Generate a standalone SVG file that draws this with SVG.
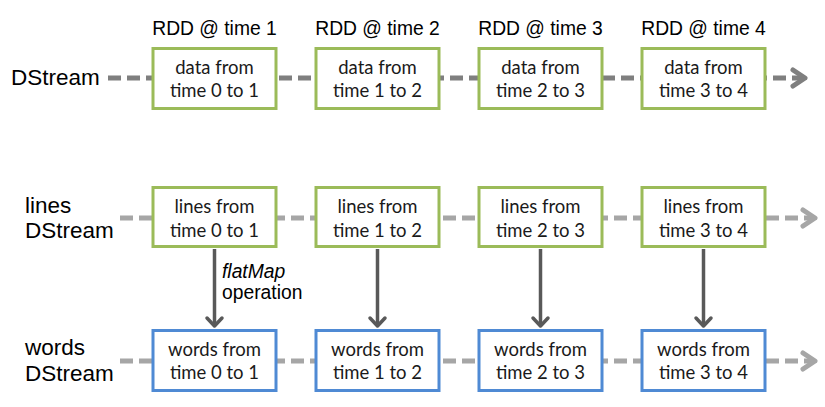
<svg xmlns="http://www.w3.org/2000/svg" width="825" height="407" viewBox="0 0 825 407">
<defs>
<style>
.bg{fill:#ffffff}
.lbl{font-family:"Liberation Sans",Arial,sans-serif;font-size:22.5px;fill:#000}
.hdr{font-family:"Liberation Sans",Arial,sans-serif;font-size:19.3px;fill:#000;text-anchor:middle}
.op{font-family:"Liberation Sans",Arial,sans-serif;font-size:19.3px;fill:#000}
.bt{font-family:Lato,"Open Sans",sans-serif;font-size:18.5px;fill:#1a1a1a;text-anchor:middle}
.g{fill:#fff;stroke:#9BBB59;stroke-width:3}
.b{fill:#fff;stroke:#4F8AD4;stroke-width:3}
.d1{stroke:#7f7f7f;stroke-width:5;stroke-dasharray:13 6;fill:none}
.d2{stroke:#a6a6a6;stroke-width:5;stroke-dasharray:13 6;fill:none}
.h1{stroke:#7f7f7f;stroke-width:5;fill:none;stroke-linecap:round;stroke-linejoin:round}
.h2{stroke:#a6a6a6;stroke-width:5;fill:none;stroke-linecap:round;stroke-linejoin:round}
.v{stroke:#595959;stroke-width:3.5;fill:none}
.vh{stroke:#595959;stroke-width:3.5;fill:none;stroke-linecap:round;stroke-linejoin:round}
</style>
</defs>
<rect class="bg" x="0" y="0" width="825" height="407"/>
<g id="connectors">
<line class="d1" x1="108" y1="78" x2="802" y2="78"/>
<polyline class="h1" points="793,70 805,78 793,86"/>
<line class="d2" x1="120" y1="218" x2="812" y2="218"/>
<polyline class="h2" points="803,210 815,218 803,226"/>
<line class="d2" x1="120" y1="361" x2="812" y2="361"/>
<polyline class="h2" points="803,353 815,361 803,369"/>
<line class="v" x1="214.5" y1="249" x2="214.5" y2="326"/>
<polyline class="vh" points="207,318 214.5,326 222,318"/>
<line class="v" x1="377.5" y1="249" x2="377.5" y2="326"/>
<polyline class="vh" points="370,318 377.5,326 385,318"/>
<line class="v" x1="540.5" y1="249" x2="540.5" y2="326"/>
<polyline class="vh" points="533,318 540.5,326 548,318"/>
<line class="v" x1="703.5" y1="249" x2="703.5" y2="326"/>
<polyline class="vh" points="696,318 703.5,326 711,318"/>
</g>
<g id="labels">
<text class="lbl" x="11" y="85">DStream</text>
<text class="lbl" x="25" y="213">lines</text>
<text class="lbl" x="25" y="238">DStream</text>
<text class="lbl" x="25" y="355">words</text>
<text class="lbl" x="25" y="381">DStream</text>
<text class="hdr" x="214.5" y="35">RDD @ time 1</text>
<text class="hdr" x="377.5" y="35">RDD @ time 2</text>
<text class="hdr" x="540.5" y="35">RDD @ time 3</text>
<text class="hdr" x="703.5" y="35">RDD @ time 4</text>
<text class="op" x="222" y="278" font-style="italic">flatMap</text>
<text class="op" x="222" y="299">operation</text>
</g>
<g id="data1"><rect class="g" x="153" y="48.5" width="123" height="60"/><text class="bt" x="214.5" y="74">data from</text><text class="bt" x="214.5" y="97">time 0 to 1</text></g>
<g id="data2"><rect class="g" x="316" y="48.5" width="123" height="60"/><text class="bt" x="377.5" y="74">data from</text><text class="bt" x="377.5" y="97">time 1 to 2</text></g>
<g id="data3"><rect class="g" x="479" y="48.5" width="123" height="60"/><text class="bt" x="540.5" y="74">data from</text><text class="bt" x="540.5" y="97">time 2 to 3</text></g>
<g id="data4"><rect class="g" x="642" y="48.5" width="123" height="60"/><text class="bt" x="703.5" y="74">data from</text><text class="bt" x="703.5" y="97">time 3 to 4</text></g>
<g id="lines1"><rect class="g" x="153" y="187.5" width="123" height="59"/><text class="bt" x="214.5" y="213">lines from</text><text class="bt" x="214.5" y="237">time 0 to 1</text></g>
<g id="lines2"><rect class="g" x="316" y="187.5" width="123" height="59"/><text class="bt" x="377.5" y="213">lines from</text><text class="bt" x="377.5" y="237">time 1 to 2</text></g>
<g id="lines3"><rect class="g" x="479" y="187.5" width="123" height="59"/><text class="bt" x="540.5" y="213">lines from</text><text class="bt" x="540.5" y="237">time 2 to 3</text></g>
<g id="lines4"><rect class="g" x="642" y="187.5" width="123" height="59"/><text class="bt" x="703.5" y="213">lines from</text><text class="bt" x="703.5" y="237">time 3 to 4</text></g>
<g id="words1"><rect class="b" x="153" y="330.5" width="123" height="60"/><text class="bt" x="214.5" y="356">words from</text><text class="bt" x="214.5" y="379">time 0 to 1</text></g>
<g id="words2"><rect class="b" x="316" y="330.5" width="123" height="60"/><text class="bt" x="377.5" y="356">words from</text><text class="bt" x="377.5" y="379">time 1 to 2</text></g>
<g id="words3"><rect class="b" x="479" y="330.5" width="123" height="60"/><text class="bt" x="540.5" y="356">words from</text><text class="bt" x="540.5" y="379">time 2 to 3</text></g>
<g id="words4"><rect class="b" x="642" y="330.5" width="123" height="60"/><text class="bt" x="703.5" y="356">words from</text><text class="bt" x="703.5" y="379">time 3 to 4</text></g>
</svg>
